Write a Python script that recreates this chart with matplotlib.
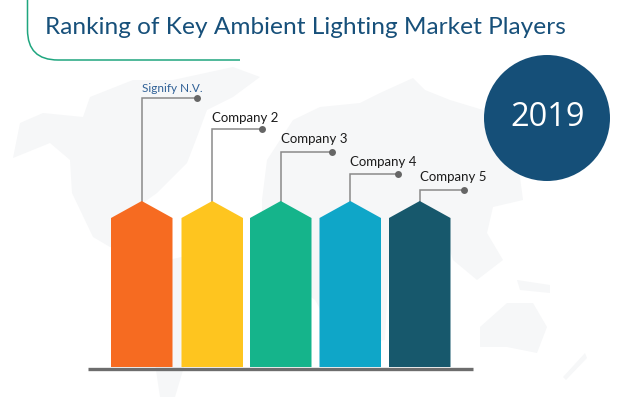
#!/usr/bin/env python3
"""Ranking of key ambient lighting market players, drawn in picture pixels."""
import matplotlib
matplotlib.use("Agg")
import matplotlib.pyplot as plt
from matplotlib.patches import Circle, PathPatch, Polygon
from matplotlib.path import Path

W, H = 638, 404

TITLE = "Ranking of Key Ambient Lighting Market Players"
YEAR = "2019"
COMPANIES = ["Signify N.V.", "Company 2", "Company 3", "Company 4", "Company 5"]
BAR_COLORS = ["#f66b21", "#fec51f", "#15b48b", "#0fa6c8", "#17586c"]
LABEL_COLORS = ["#2f6096", "#1c1c1c", "#1c1c1c", "#1c1c1c", "#1c1c1c"]
LABEL_SIZES = [8.5, 9.5, 9.5, 9.5, 9.5]
BAR_LEFT = [111, 181.5, 250, 319.5, 389]
LEAD_Y = [98, 129, 152, 174, 190]
LABEL_Y = [89, 118, 139, 162, 177]
DOT_X = [196.5, 262, 332, 398, 464]

# rough continents of the pale background map
MAP_SHAPES = [
    [(13, 158), (20, 123), (43, 113), (83, 117), (90, 97), (133, 80), (173, 80), (233, 67), (260, 77),
     (233, 97), (207, 110), (197, 137), (187, 163), (157, 193), (143, 203), (130, 250), (110, 247),
     (93, 237), (72, 193), (70, 160), (50, 143)],
    [(125, 270), (190, 255), (222, 285), (195, 330), (175, 397), (160, 397), (150, 330)],
    [(267, 160), (293, 120), (320, 107), (360, 103), (380, 93), (413, 78), (425, 90), (450, 100),
     (483, 110), (520, 177), (523, 200), (493, 207), (487, 233), (503, 260), (477, 280), (453, 260),
     (445, 235), (390, 240), (385, 340), (340, 345), (315, 300), (262, 260), (262, 200)],
    [(517, 280), (550, 285), (550, 293), (520, 290)],
    [(480, 327), (507, 303), (533, 303), (547, 327), (537, 353), (507, 347), (480, 347)],
    [(563, 377), (585, 353), (587, 358), (566, 380)],
]


def main():
    fig = plt.figure(figsize=(W / 100, H / 100), dpi=100)
    ax = fig.add_axes([0, 0, 1, 1])
    ax.set_xlim(0, W)
    ax.set_ylim(H, 0)
    ax.axis("off")

    for shape in MAP_SHAPES:
        ax.add_patch(Polygon(shape, closed=True, facecolor="#f6f7f8", edgecolor="none", zorder=1))

    # title bracket
    bracket = Path([(27.5, 0), (27.5, 30), (27.5, 60), (58, 60), (240, 60)],
                   [Path.MOVETO, Path.LINETO, Path.CURVE3, Path.CURVE3, Path.LINETO])
    ax.add_patch(PathPatch(bracket, facecolor="none", edgecolor="#1fa67f", lw=1.1, zorder=2))
    ax.text(45, 27, TITLE, fontsize=17.55, color="#17507a", family="Lato", va="center", ha="left", zorder=5)

    # year badge
    ax.add_patch(Circle((547, 118), 63, facecolor="#154f78", edgecolor="none", zorder=3))
    ax.text(548, 117, YEAR, fontsize=23.5, color="white", family="Open Sans", ha="center", va="center", zorder=4)

    bar_w = 61.5
    for i, name in enumerate(COMPANIES):
        left = BAR_LEFT[i]
        mid = left + bar_w / 2
        ax.add_patch(Polygon([(left, 367), (left, 218), (mid, 201), (left + bar_w, 218), (left + bar_w, 367)],
                             closed=True, facecolor=BAR_COLORS[i], edgecolor="none", zorder=3))
        ax.plot([mid, mid, DOT_X[i]], [202, LEAD_Y[i], LEAD_Y[i]], color="#8a8a8a", lw=1.1, zorder=2,
                solid_joinstyle="miter")
        ax.plot([DOT_X[i]], [LEAD_Y[i]], "o", ms=5, color="#666666", mec="none", zorder=3)
        ax.text(mid, LABEL_Y[i], name, fontsize=LABEL_SIZES[i], color=LABEL_COLORS[i], family="Lato",
                ha="left", va="center", zorder=5)

    ax.plot([88, 473], [368.5, 368.5], color="#6d6d6d", lw=2.4, solid_capstyle="butt", zorder=4)

    fig.savefig("out.png", dpi=100)


if __name__ == "__main__":
    main()
